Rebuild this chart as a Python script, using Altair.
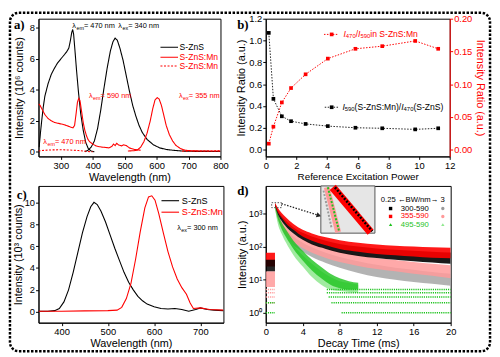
import altair as alt
import pandas as pd

FONT = "Liberation Sans"
SERIF = "Liberation Serif"
RED = "#ff0000"
GREEN = "#1ec31e"
PINK = "#ff9a9a"
GREY = "#9a9a9a"
LGREEN = "#8fe88f"

# ---------------- panel a: excitation / emission spectra (10^6 counts) -------------
a_xticks = [300, 400, 500, 600, 700, 800]
a_yticks = [0, 2, 4, 6, 8]
a_zns_ex_x = [232, 236, 240, 245, 250, 260, 270, 280, 290, 300, 310, 318, 325, 330, 334, 337, 340, 344, 349, 355, 362, 370, 378, 386, 395, 405]
a_zns_ex_y = [0.3, 1.2, 2.0, 2.9, 3.6, 4.4, 5.0, 5.4, 5.75, 6.0, 6.25, 6.45, 6.7, 7.2, 7.7, 7.9, 7.6, 6.6, 5.3, 3.9, 2.5, 1.4, 0.6, 0.2, 0.05, 0.0]
a_zns_em_x = [375, 385, 395, 405, 415, 425, 435, 445, 455, 463, 470, 477, 485, 495, 505, 515, 525, 535, 545, 555, 570, 590, 610, 630, 650, 680, 700, 800]
a_zns_em_y = [0.0, 0.1, 0.3, 0.7, 1.5, 2.7, 4.1, 5.4, 6.5, 7.1, 7.35, 7.2, 6.7, 5.9, 4.9, 3.9, 3.0, 2.3, 1.7, 1.25, 0.8, 0.45, 0.25, 0.15, 0.1, 0.05, 0.03, 0.02]
a_mn_ex_x = [230, 235, 240, 245, 250, 260, 270, 280, 290, 300, 310, 320, 330, 338, 343, 348, 352, 356, 360, 365, 370, 375, 380, 385, 390, 400, 410, 420, 430, 440, 450, 460, 465, 470, 475, 480, 490, 497, 505, 515, 530, 550]
a_mn_ex_y = [3.1, 3.0, 2.8, 2.6, 2.4, 2.15, 2.0, 1.9, 1.85, 1.8, 1.75, 1.68, 1.6, 1.55, 1.7, 2.5, 3.2, 3.45, 3.3, 2.6, 1.9, 1.4, 1.05, 0.8, 0.65, 0.5, 0.38, 0.33, 0.3, 0.28, 0.25, 0.35, 0.5, 0.4, 0.55, 0.45, 0.38, 0.45, 0.4, 0.25, 0.15, 0.1]
a_mn_em_x = [510, 530, 540, 550, 560, 570, 580, 588, 595, 602, 608, 615, 622, 630, 640, 650, 660, 675, 690, 710, 750, 800]
a_mn_em_y = [0.05, 0.07, 0.12, 0.3, 0.65, 1.2, 2.0, 2.8, 3.35, 3.5, 3.4, 3.0, 2.4, 1.7, 1.1, 0.7, 0.42, 0.2, 0.1, 0.06, 0.05, 0.05]
a_mn470_x = [230, 250, 270, 300, 320, 340, 355, 370, 385, 400]
a_mn470_y = [0.05, 0.1, 0.12, 0.13, 0.12, 0.1, 0.08, 0.05, 0.02, 0.0]
a_mn470b_x = [680, 720, 760, 800]
a_mn470b_y = [0.04, 0.05, 0.05, 0.06]

# annotations: anchor x, anchor y, subscript, rest, colour
a_ann_x = [336, 480, 388, 670, 245]
a_ann_y = [8.15, 8.15, 3.6, 3.6, 0.63]
a_ann_sub = ["em", "ex", "em", "ex", "em"]
a_ann_rest = ["= 470 nm", "= 340 nm", "= 590 nm", "= 355 nm", "= 470 nm"]
a_ann_c = ["black", "black", RED, RED, RED]

a_leg_lab = ["S-ZnS", "S-ZnS:Mn", "S-ZnS:Mn"]
a_leg_col = ["black", RED, RED]
a_leg_kind = ["solid", "solid", "dot"]
a_leg_y = [6.75, 6.11, 5.54]
a_leg_x1, a_leg_x2, a_leg_xt = 612, 667, 672

# ---------------- panel b: intensity ratios -------------
b_x = [0.2, 0.5, 1.05, 1.65, 2.6, 4.05, 5.85, 7.6, 9.75, 11.25]
b_black = [1.07, 0.465, 0.305, 0.26, 0.235, 0.215, 0.20, 0.195, 0.185, 0.195]
b_red = [0.009, 0.035, 0.072, 0.094, 0.115, 0.139, 0.154, 0.158, 0.166, 0.154]
b_xticks = [0, 2, 4, 6, 8, 10, 12]
b_lticks = [0.0, 0.2, 0.4, 0.6, 0.8, 1.0, 1.2]
b_rticks = [0.0, 0.05, 0.10, 0.15, 0.20]

# ---------------- panel c: emission spectra (10^3 counts) -------------
c_xticks = [400, 500, 600, 700]
c_yticks = [0, 2, 4, 6, 8, 10]
c_zns_x = [350, 370, 385, 395, 405, 415, 425, 435, 445, 455, 463, 470, 477, 485, 495, 505, 515, 525, 535, 545, 555, 565, 575, 585, 600, 615, 630, 645, 660, 675, 690, 700, 715, 730, 750]
c_zns_y = [0.05, 0.05, 0.1, 0.3, 0.9, 2.0, 3.6, 5.4, 7.2, 8.7, 9.6, 10.0, 9.8, 9.2, 8.2, 7.0, 5.8, 4.7, 3.6, 2.7, 2.0, 1.4, 1.0, 0.7, 0.45, 0.3, 0.25, 0.3, 0.2, 0.05, 0.2, 0.35, 0.2, 0.15, 0.1]
c_mn_x = [350, 400, 450, 500, 520, 530, 540, 550, 560, 570, 580, 588, 595, 602, 610, 620, 630, 640, 650, 660, 670, 678, 685, 700, 720, 750]
c_mn_y = [0.05, 0.05, 0.08, 0.1, 0.15, 0.4, 1.2, 2.6, 4.8, 7.3, 9.5, 10.5, 10.6, 10.2, 9.0, 7.2, 5.5, 4.1, 3.0, 2.2, 1.6, 0.8, 0.3, 0.35, 0.2, 0.15]

# ---------------- panel d: decay curves (envelopes of the point clouds) -------------
d_t = [1.0, 1.3, 1.7, 2.2, 3, 4, 5, 6.5, 8, 10, 12, 14, 16, 18, 20]
d_red_hi = [2100, 1500, 1050, 750, 480, 320, 250, 190, 155, 130, 115, 105, 100, 95, 92]
d_red_lo = [1800, 1100, 750, 500, 320, 200, 150, 110, 85, 70, 60, 55, 50, 46, 44]
d_blk_hi = [2000, 1300, 850, 600, 380, 260, 200, 150, 120, 100, 88, 80, 75, 70, 66]
d_blk_lo = [1700, 950, 600, 400, 250, 160, 115, 85, 65, 52, 45, 40, 36, 33, 30]
d_pnk_hi = [1900, 1000, 600, 400, 250, 170, 125, 90, 70, 55, 45, 39, 34, 30, 27]
d_pnk_lo = [1500, 700, 400, 240, 140, 90, 65, 45, 34, 26, 21, 18, 15, 13, 11]
d_gry_hi = [1800, 900, 520, 330, 200, 130, 95, 65, 48, 36, 28, 23, 20, 17, 15]
d_gry_lo = [1400, 600, 330, 200, 110, 70, 48, 32, 23, 16, 12, 10, 8.5, 7.5, 6.5]
d_tg = [1.0, 1.3, 1.7, 2.2, 3, 4, 5, 6, 7, 8, 9, 10]
d_grn_hi = [2000, 1000, 550, 320, 150, 75, 40, 24, 15, 11, 9, 8]
d_grn_lo = [1600, 700, 350, 190, 85, 38, 19, 11, 7, 5.5, 5, 5]
d_lgr_hi = [1900, 800, 420, 240, 110, 55, 30, 18, 12, 9, 8, 7]
d_lgr_lo = [1400, 500, 250, 130, 55, 25, 12, 7, 5, 4.5, 4.2, 4]
d_pre_t = [0.0, 1.0]
d_pre_red = [65, 25]
d_pre_blk = [40, 18]
d_pre_pnk = [18, 6]
d_lvl_t1 = [0, 0, 0, 0, 0, 0, 8.2, 7.1, 6.8, 6.6, 6.6]
d_lvl_t2 = [1, 1, 1, 1, 1, 1, 20, 20, 20, 20, 20]
d_lvl_y = [5, 4, 3, 2, 2, 1, 1, 2, 3, 4, 5]
d_lvl_c = [PINK, PINK, PINK, PINK, GREEN, GREEN, GREEN, GREEN, GREEN, GREEN, GREEN]
d_xticks = [0, 4, 8, 12, 16, 20]
d_yticks = [1, 10, 100, 1000]

# ---------------- helpers -------------
AW = {' ': 0.278, '0': 0.556, '1': 0.556, '2': 0.556, '3': 0.556, '4': 0.556, '5': 0.556, '6': 0.556,
      '7': 0.556, '8': 0.556, '9': 0.556, 'λ': 0.56, '=': 0.584, 'n': 0.556, 'm': 0.833, 'e': 0.556,
      'x': 0.5, 'I': 0.278, '/': 0.278, '(': 0.333, ')': 0.333, 'S': 0.667, '-': 0.333, 'Z': 0.611,
      ':': 0.278, 'M': 0.833, 'i': 0.222}


def tw(s, fs):
    return fs * sum(AW.get(ch, 0.556) for ch in s)


def rich(x, y, pieces, color, xf="x", yf="y"):
    """pieces: (text, fontsize, dy, italic) placed one after another from one data anchor"""
    layers = []
    off = 0.0
    for txt, fs, dy, italic in pieces:
        df = pd.DataFrame({xf: [x], yf: [y], "txt": [txt]})
        layers.append(alt.Chart(df).mark_text(
            align="left", baseline="middle", fontSize=fs, font=FONT, dx=round(off, 1), dy=dy, color=color,
            fontStyle="italic" if italic else "normal").encode(
            x=f"{xf}:Q", y=f"{yf}:Q", text="txt:N"))
        off += tw(txt, fs)
    return layers


def cdf(xs, ys, sample, kind, cid):
    return pd.DataFrame({"x": xs, "y": ys, "sample": sample, "kind": kind, "curve": cid})


def xaxis(values, title, **kw):
    return alt.Axis(values=values, tickCount=len(values), title=title, labelOverlap=False,
                    labelFlush=False, titlePadding=2, **kw)


def yaxis(values, title, **kw):
    return alt.Axis(values=values, tickCount=len(values), title=title, labelOverlap=False,
                    labelFlush=False, **kw)

dummy = pd.DataFrame({"k": [0]})
dash_scale = alt.Scale(domain=["solid", "dot"], range=[[1, 0], [2, 1.6]])


def letter(txt, dx, dy):
    return alt.Chart(dummy).mark_text(text=txt, font=SERIF, fontWeight="bold", fontSize=13,
                                      align="left", baseline="middle").encode(
        x=alt.value(dx), y=alt.value(dy))

# ================= panel a =================
df_a = pd.concat([
    cdf(a_zns_ex_x, a_zns_ex_y, "black", "solid", "a1"),
    cdf(a_zns_em_x, a_zns_em_y, "black", "solid", "a2"),
    cdf(a_mn_ex_x, a_mn_ex_y, "red", "solid", "a3"),
    cdf(a_mn_em_x, a_mn_em_y, "red", "solid", "a4"),
    cdf(a_mn470_x, a_mn470_y, "red", "dot", "a5"),
    cdf(a_mn470b_x, a_mn470b_y, "red", "dot", "a6"),
])
xa = alt.X("x:Q", scale=alt.Scale(domain=[230, 800], nice=False, zero=False),
           axis=xaxis(a_xticks, "Wavelength (nm)"))
ya = alt.Y("y:Q", scale=alt.Scale(domain=[-0.3, 8.6], nice=False, zero=False),
           axis=yaxis(a_yticks, "Intensity (10⁶ counts)", titlePadding=5))
a_lines = alt.Chart(df_a).mark_line(strokeWidth=1.1, clip=True).encode(
    x=xa, y=ya,
    color=alt.Color("sample:N", scale=None),
    strokeDash=alt.StrokeDash("kind:N", scale=dash_scale, legend=None),
    detail="curve:N")
a_ann = []
for i in range(len(a_ann_x)):
    a_ann += rich(a_ann_x[i], a_ann_y[i],
                  [("λ", 7.5, 0, False), (a_ann_sub[i], 5.5, 2, False), (a_ann_rest[i], 7.5, 0, False)],
                  a_ann_c[i])
df_a_leg = pd.DataFrame({"x": a_leg_x1, "x2": a_leg_x2, "xt": a_leg_xt, "y": a_leg_y,
                         "lab": a_leg_lab, "c": a_leg_col, "kind": a_leg_kind})
a_leg_r = alt.Chart(df_a_leg).mark_rule(strokeWidth=1.1).encode(
    x="x:Q", x2="x2:Q", y="y:Q", color=alt.Color("c:N", scale=None),
    strokeDash=alt.StrokeDash("kind:N", scale=dash_scale, legend=None))
a_leg_t = alt.Chart(df_a_leg).mark_text(align="left", baseline="middle", fontSize=8.7, font=FONT).encode(
    x="xt:Q", y="y:Q", text="lab:N", color=alt.Color("c:N", scale=None))
border = alt.Chart(dummy).mark_rect(filled=False, stroke="black", strokeWidth=2.5,
                                    strokeDash=[2.5, 1.6], cornerRadius=9, clip=False).encode(
    x=alt.value(-29), x2=alt.value(459), y=alt.value(-6), y2=alt.value(338))
panel_a = alt.layer(a_lines, *a_ann, a_leg_r, a_leg_t, letter("a)", -25, 6), border).properties(width=185, height=140)

# ================= panel b =================
df_b_blk = pd.DataFrame({"x": b_x, "y": b_black})
df_b_red = pd.DataFrame({"x": b_x, "y": b_red})
xb = alt.X("x:Q", scale=alt.Scale(domain=[0, 12], nice=False),
           axis=xaxis(b_xticks, "Reference Excitation Power", titleFontSize=10))
ybl = alt.Y("y:Q", scale=alt.Scale(domain=[-0.063, 1.2], nice=False, zero=False),
            axis=yaxis(b_lticks, "Intensity Ratio (a.u.)", format=".1f", titlePadding=2))
ybr = alt.Y("y:Q", scale=alt.Scale(domain=[-0.0105, 0.2], nice=False, zero=False),
            axis=yaxis(b_rticks, "Intensity Ratio (a.u.)", orient="right", format=".2f",
                       labelColor=RED, titleColor=RED, domainColor=RED, tickColor=RED, titlePadding=3))
b_blk_line = alt.Chart(df_b_blk).mark_line(color="#222", strokeWidth=1, strokeDash=[1.5, 1.5]).encode(x=xb, y=ybl)
b_blk_pts = alt.Chart(df_b_blk).mark_square(color="black", size=14, opacity=1).encode(x="x:Q", y="y:Q")
df_b_leg_blk = pd.DataFrame({"x": [3.85], "x2": [4.8], "xm": [4.3], "y": [0.388]})
b_lb_r = alt.Chart(df_b_leg_blk).mark_rule(color="#222", strokeDash=[1.5, 1.5]).encode(x="x:Q", x2="x2:Q", y="y:Q")
b_lb_p = alt.Chart(df_b_leg_blk).mark_square(color="black", size=14, opacity=1).encode(x="xm:Q", y="y:Q")
b_lb_t = rich(5.0, 0.388, [("I", 8.7, 0, True), ("590", 6, 2, False), ("(S-ZnS:Mn)/", 8.7, 0, False),
                           ("I", 8.7, 0, True), ("470", 6, 2, False), ("(S-ZnS)", 8.7, 0, False)], "black")
b_left = alt.layer(b_blk_line, b_blk_pts, b_lb_r, b_lb_p, *b_lb_t, letter("b)", -29, 6))

b_red_line = alt.Chart(df_b_red).mark_line(color=RED, strokeWidth=1, strokeDash=[1.5, 1.5]).encode(x="x:Q", y=ybr)
b_red_pts = alt.Chart(df_b_red).mark_square(color=RED, size=14, opacity=1).encode(x="x:Q", y="y:Q")
df_b_leg_red = pd.DataFrame({"x": [3.8], "x2": [4.75], "xm": [4.3], "y": [0.176]})
b_lr_r = alt.Chart(df_b_leg_red).mark_rule(color=RED, strokeDash=[1.5, 1.5]).encode(x="x:Q", x2="x2:Q", y="y:Q")
b_lr_p = alt.Chart(df_b_leg_red).mark_square(color=RED, size=14, opacity=1).encode(x="xm:Q", y="y:Q")
b_lr_t = rich(5.07, 0.176, [("I", 8.7, 0, True), ("470", 6, 2, False), ("/", 8.7, 0, False),
                            ("I", 8.7, 0, True), ("590", 6, 2, False), (" in S-ZnS:Mn", 8.7, 0, False)], RED)
b_right = alt.layer(b_red_line, b_red_pts, b_lr_r, b_lr_p, *b_lr_t)
panel_b = alt.layer(b_left, b_right).resolve_scale(y="independent").properties(width=187, height=140)

# ================= panel c =================
df_c = pd.concat([
    cdf(c_zns_x, c_zns_y, "black", "solid", "c1"),
    cdf(c_mn_x, c_mn_y, "red", "solid", "c2"),
])
xc = alt.X("x:Q", scale=alt.Scale(domain=[350, 750], nice=False, zero=False),
           axis=xaxis(c_xticks, "Wavelength (nm)"))
yc = alt.Y("y:Q", scale=alt.Scale(domain=[-1, 11.5], nice=False, zero=False),
           axis=yaxis(c_yticks, "Intensity (10³ counts)", titlePadding=1))
c_lines = alt.Chart(df_c).mark_line(strokeWidth=1.1, clip=True).encode(
    x=xc, y=yc, color=alt.Color("sample:N", scale=None), detail="curve:N")
df_c_leg = pd.DataFrame({"x": [616, 616], "x2": [654, 654], "xt": [660, 660], "y": [10.15, 9.1],
                         "lab": ["S-ZnS", "S-ZnS:Mn"], "c": ["black", RED]})
c_leg_r = alt.Chart(df_c_leg).mark_rule(strokeWidth=1.1).encode(
    x="x:Q", x2="x2:Q", y="y:Q", color=alt.Color("c:N", scale=None))
c_leg_t = alt.Chart(df_c_leg).mark_text(align="left", baseline="middle", fontSize=9.3, font=FONT).encode(
    x="xt:Q", y="y:Q", text="lab:N", color=alt.Color("c:N", scale=None))
c_ann = rich(650, 7.66, [("λ", 7.5, 0, False), ("ex", 5.5, 2, False), ("= 300 nm", 7.5, 0, False)], "black")
panel_c = alt.layer(c_lines, c_leg_r, c_leg_t, *c_ann, letter("c)", -22, 9)).properties(width=188, height=139)

# ================= panel d =================
xd = alt.X("t:Q", scale=alt.Scale(domain=[0, 20], nice=False),
           axis=xaxis(d_xticks, "Decay Time (ms)"))
yd = alt.Y("hi:Q", scale=alt.Scale(type="log", domain=[0.5, 6800], nice=False),
           axis=yaxis(d_yticks, "Intensity (a.u.)", titlePadding=1,
                      labelExpr="datum.value == 1 ? '10⁰' : datum.value == 10 ? '10¹' : datum.value == 100 ? '10²' : '10³'"))


def band(ts, hi, lo, color, opacity):
    df = pd.DataFrame({"t": ts, "hi": hi, "lo": lo})
    return alt.Chart(df).mark_area(color=color, opacity=opacity, interpolate="monotone", clip=True).encode(
        x=xd, y=yd, y2="lo:Q")

d_layers = [
    band(d_t, d_gry_hi, d_gry_lo, GREY, 0.75),
    band(d_t, d_pnk_hi, d_pnk_lo, PINK, 0.85),
    band(d_tg, d_lgr_hi, d_lgr_lo, LGREEN, 0.85),
    band(d_tg, d_grn_hi, d_grn_lo, GREEN, 0.8),
    band(d_t, d_blk_hi, d_blk_lo, "black", 0.9),
    band(d_t, d_red_hi, d_red_lo, RED, 0.9),
    band(d_pre_t, [d_pre_pnk[0]] * 2, [d_pre_pnk[1]] * 2, PINK, 0.85),
    band(d_pre_t, [d_pre_red[0]] * 2, [d_pre_red[1]] * 2, RED, 0.9),
    band(d_pre_t, [d_pre_blk[0]] * 2, [d_pre_blk[1]] * 2, "black", 0.85),
]
df_lvl = pd.DataFrame({"t": d_lvl_t1, "t2": d_lvl_t2, "hi": d_lvl_y, "c": d_lvl_c})
d_lvl = alt.Chart(df_lvl).mark_rule(strokeWidth=1.5, strokeDash=[1.2, 1.0]).encode(
    x="t:Q", x2="t2:Q", y="hi:Q", color=alt.Color("c:N", scale=None))
df_zoom = pd.DataFrame({"t": [0.64], "t2": [1.7], "hi": [2120], "lo": [1500]})
d_zoom = alt.Chart(df_zoom).mark_rect(filled=False, stroke="#555", strokeWidth=1, strokeDash=[1.5, 1.5]).encode(
    x="t:Q", x2="t2:Q", y="hi:Q", y2="lo:Q")
df_arrow = pd.DataFrame({"t": [1.7], "t2": [5.6], "hi": [1980], "lo": [900]})
d_arrow = alt.Chart(df_arrow).mark_rule(color="#222", strokeWidth=1.3, strokeDash=[1.5, 1.5]).encode(
    x="t:Q", x2="t2:Q", y="hi:Q", y2="lo:Q")
df_head = pd.DataFrame({"t": [5.75], "hi": [870]})
d_head = alt.Chart(df_head).mark_point(shape="triangle-right", filled=True, color="#222", size=30, angle=17,
                                       opacity=1).encode(x="t:Q", y="hi:Q")
# legend of panel d
df_dleg = pd.DataFrame({
    "t": [13.5, 13.5, 13.5], "t2": [19.15, 19.15, 19.15], "tt": [14.6, 14.6, 14.6],
    "hi": [1408, 814, 460], "lab": ["300-590", "355-590", "495-590"],
    "c1": ["black", RED, GREEN], "c2": [GREY, PINK, LGREEN],
    "s1": ["square", "square", "triangle-up"], "s2": ["circle", "circle", "triangle-up"]})
d_leg_s1 = alt.Chart(df_dleg).mark_point(filled=True, size=12, opacity=1).encode(
    x="t:Q", y="hi:Q", color=alt.Color("c1:N", scale=None), shape=alt.Shape("s1:N", scale=None))
d_leg_s2 = alt.Chart(df_dleg).mark_point(filled=True, size=12, opacity=1).encode(
    x="t2:Q", y="hi:Q", color=alt.Color("c2:N", scale=None), shape=alt.Shape("s2:N", scale=None))
d_leg_t = alt.Chart(df_dleg).mark_text(align="left", baseline="middle", fontSize=7.8, font=FONT).encode(
    x="tt:Q", y="hi:Q", text="lab:N", color=alt.Color("c1:N", scale=None))
df_dhead = pd.DataFrame({"t": [15.9], "hi": [2500], "lab": ["0.25 ←BW/nm→ 3"]})
d_leg_h = alt.Chart(df_dhead).mark_text(align="center", baseline="middle", fontSize=7.8, font=FONT).encode(
    x="t:Q", y="hi:Q", text="lab:N")
d_main = alt.layer(*d_layers, d_lvl, d_zoom, d_arrow, d_head, d_leg_s1, d_leg_s2, d_leg_t, d_leg_h,
                   letter("d)", -29, 5))

# inset (its own scales, placed inside the plot area)
ixs = alt.Scale(domain=[0, 1], range=[56, 111])
iys = alt.Scale(domain=[0, 1], range=[48, 0])
df_ibox = pd.DataFrame({"ix": [0.0], "ix2": [1.0], "iy": [0.0], "iy2": [1.0]})
i_box = alt.Chart(df_ibox).mark_rect(fill="#e6e6e6", stroke="#555", strokeWidth=1).encode(
    x=alt.X("ix:Q", scale=ixs, axis=None), x2="ix2:Q",
    y=alt.Y("iy:Q", scale=iys, axis=None), y2="iy2:Q")
inset_band_ix1 = [0.05, 0.11, 0.13, 0.22, 0.26]
inset_band_iy1 = [0.90, 0.97, 0.97, 0.97, 0.97]
inset_band_ix2 = [0.20, 0.32, 0.34, 0.92, 0.95]
inset_band_iy2 = [0.10, 0.02, 0.03, 0.02, 0.04]
inset_band_c = [GREY, PINK, GREEN, RED, "black"]
inset_band_w = [2, 6, 2, 8, 2.5]
inset_band_d = ["dot", "solid", "dot", "solid", "dot"]
rows = []
for k in range(5):
    rows.append({"ix": inset_band_ix1[k], "iy": inset_band_iy1[k], "b": k, "c": inset_band_c[k],
                 "w": inset_band_w[k], "kind": inset_band_d[k]})
    rows.append({"ix": inset_band_ix2[k], "iy": inset_band_iy2[k], "b": k, "c": inset_band_c[k],
                 "w": inset_band_w[k], "kind": inset_band_d[k]})
df_iband = pd.DataFrame(rows)
i_bands = alt.Chart(df_iband).mark_line(clip=False).encode(
    x=alt.X("ix:Q", scale=ixs, axis=None), y=alt.Y("iy:Q", scale=iys, axis=None),
    detail="b:N", order="b:Q", color=alt.Color("c:N", scale=None),
    strokeWidth=alt.StrokeWidth("w:Q", scale=None),
    strokeDash=alt.StrokeDash("kind:N", scale=alt.Scale(domain=["solid", "dot"], range=[[1, 0], [1.5, 2]]), legend=None))
d_inset = alt.layer(i_box, i_bands)

panel_d = alt.layer(d_main, d_inset).resolve_scale(x="independent", y="independent").properties(width=188, height=139)

chart = alt.concat(panel_a, panel_b, panel_c, panel_d, columns=2,
                   spacing={"row": 30, "column": 43}, bounds="flush").properties(
    padding=0
).configure_axis(
    labelFont=FONT, titleFont=FONT, labelFontSize=9.5, titleFontSize=11, titleFontWeight="normal",
    grid=False, domainColor="black", tickColor="black", labelColor="black", titleColor="black",
    tickSize=3, labelPadding=1, titlePadding=0
).configure_view(stroke="black", strokeWidth=1)

chart.save("out.html", embed_options={"renderer": "svg", "actions": False})
